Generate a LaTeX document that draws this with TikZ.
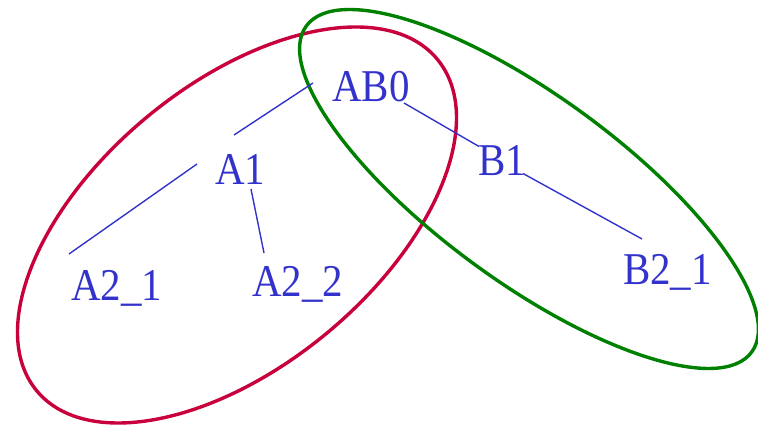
\documentclass[tikz,border=0pt]{standalone}
\usepackage{fontspec}
\newfontfamily\labelfont{Liberation Serif}[FakeStretch=0.9]
\definecolor{treeblue}{RGB}{51,51,204}
\definecolor{setred}{RGB}{200,0,60}
\definecolor{setgreen}{RGB}{0,128,0}
\tikzset{
  treenode/.style={anchor=base west, inner sep=0pt, text=treeblue,
    font=\labelfont\fontsize{45.5}{50}\selectfont},
  treeedge/.style={draw=treeblue, line width=1.4pt},
  setring/.style={line width=3.4pt},
}
\begin{document}
\begin{tikzpicture}[x=1pt, y=-1pt]
\useasboundingbox (0,0) rectangle (758,427);
\draw[setring, setred, rotate around={39.6:(237,225)}] (237,225) ellipse [x radius=260pt, y radius=140.6pt];
\draw[setring, setgreen, rotate around={-36.2:(529,189)}] (529,189) ellipse [x radius=276pt, y radius=93pt];

\node[treenode] (AB0) at (332,102) {AB0};
\node[treenode] (A1) at (215,185) {A1};
\node[treenode] (B1) at (478,175.5) {B1};
\node[treenode] (A21) at (71,301) {A2\_1};
\node[treenode] (A22) at (252,297) {A2\_2};
\node[treenode] (B21) at (623,285) {B2\_1};

\draw[treeedge] ([shift={(19,-50)}]A1.base west) -- ([shift={(-19,-19)}]AB0.base west);
\draw[treeedge] ([shift={(72,1)}]AB0.base west) -- ([shift={(1,-29)}]B1.base west);
\draw[treeedge] ([shift={(-18,-21)}]A1.base west) -- ([shift={(-2,-47)}]A21.base west);
\draw[treeedge] ([shift={(36,4)}]A1.base west) -- ([shift={(12,-44)}]A22.base west);
\draw[treeedge] ([shift={(45,-2)}]B1.base west) -- ([shift={(19,-46)}]B21.base west);
\end{tikzpicture}
\end{document}
